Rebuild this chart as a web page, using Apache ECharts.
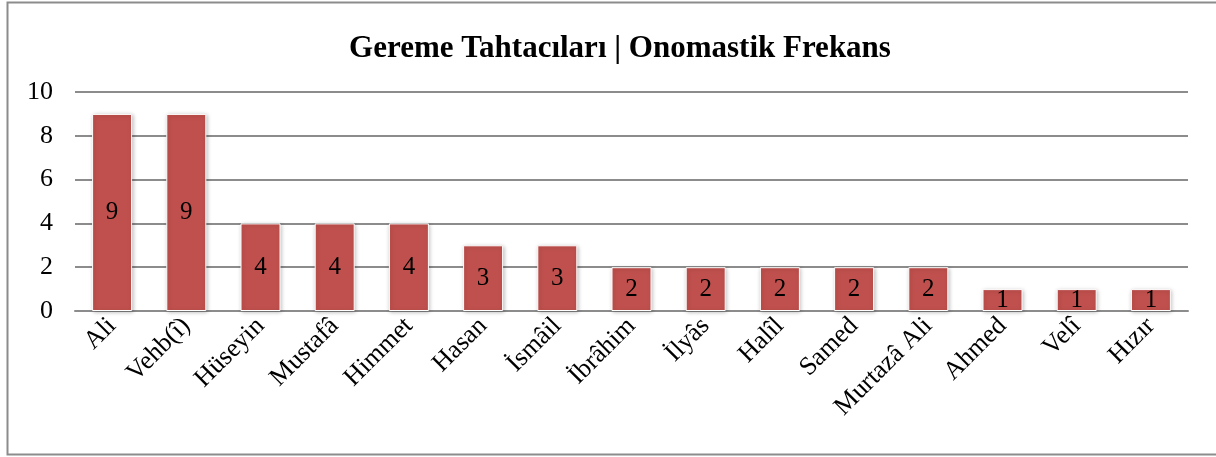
<!DOCTYPE html>
<html>
<head>
<meta charset="utf-8">
<script src="https://cdn.jsdelivr.net/npm/echarts@6/dist/echarts.min.js"></script>
<style>
  html, body { margin: 0; padding: 0; background: #fff; }
  #main { width: 1216px; height: 457px; }
</style>
</head>
<body>
<div id="main"></div>
<script>
const names = ['Ali', 'Vehb(î)', 'Hüseyin', 'Mustafâ', 'Himmet', 'Hasan', 'İsmâil', 'İbrâhim', 'İlyâs', 'Halîl', 'Samed', 'Murtazâ Ali', 'Ahmed', 'Velî', 'Hızır'];
const counts = [9, 9, 4, 4, 4, 3, 3, 2, 2, 2, 2, 2, 1, 1, 1];
const yTicks = [0, 2, 4, 6, 8, 10];

const serif = '"Liberation Serif", "Times New Roman", serif';

var chart = echarts.init(document.getElementById('main'));
var option = {
  animation: false,
  graphic: [
    {type: 'rect', shape: {x: 7.5, y: 2.5, width: 1230, height: 452}, style: {fill: 'none', stroke: '#8c8c8c', lineWidth: 2}, silent: true}
  ],
  title: {
    text: 'Gereme Tahtacıları | Onomastik Frekans',
    left: 615, top: 28, textAlign: 'center',
    textStyle: {fontFamily: serif, fontWeight: 'bold', fontSize: 31, color: '#000'}
  },
  grid: {left: 75, right: 28, top: 92, bottom: 146},
  xAxis: {
    type: 'category', data: names,
    axisLine: {lineStyle: {color: '#8c8c8c', width: 2}},
    axisTick: {show: false},
    axisLabel: {rotate: 45, interval: 0, margin: 11, fontFamily: serif, fontSize: 26, color: '#000'}
  },
  yAxis: {
    type: 'value', min: yTicks[0], max: yTicks[yTicks.length - 1], interval: 2,
    axisLine: {show: false},
    axisTick: {show: false},
    splitLine: {lineStyle: {color: '#8c8c8c', width: 2}},
    axisLabel: {margin: 22, fontFamily: serif, fontSize: 26, color: '#000'}
  },
  series: [{
    type: 'bar', data: counts, barWidth: 40,
    itemStyle: {color: '#C0504D', borderColor: '#fff', borderWidth: 1, shadowColor: 'rgba(0,0,0,0.25)', shadowBlur: 4, shadowOffsetX: 1, shadowOffsetY: 1},
    label: {show: true, position: 'inside', fontFamily: serif, fontSize: 25, color: '#000'}
  }]
};
chart.setOption(option);
</script>
</body>
</html>
